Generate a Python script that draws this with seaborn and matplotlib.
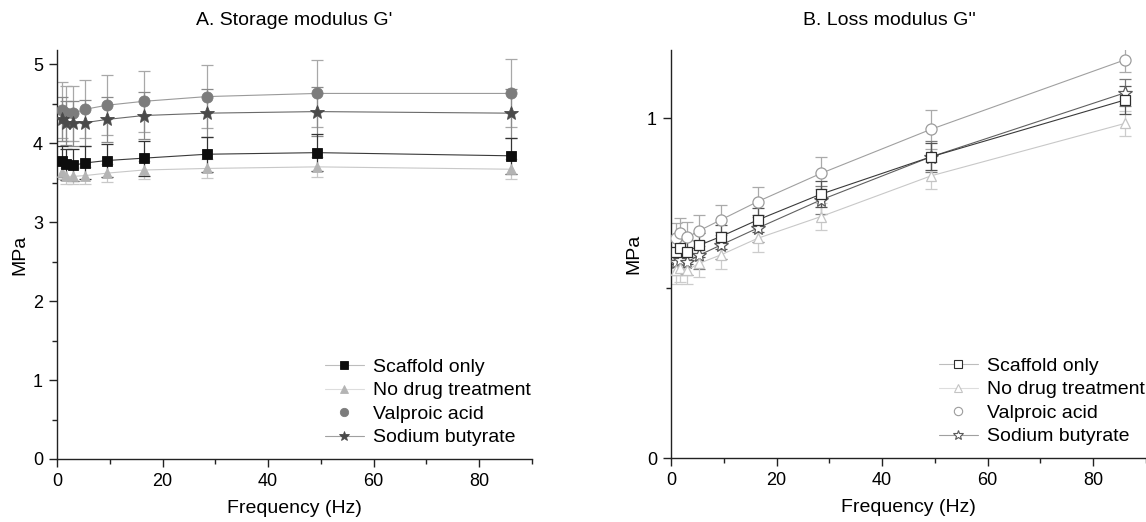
import numpy as np
import pandas as pd
import matplotlib
matplotlib.use("Agg")
import matplotlib.pyplot as plt
from matplotlib.lines import Line2D
from matplotlib.ticker import MultipleLocator
import seaborn as sns

# Oscillation frequencies (Hz)
freq = [1.0, 1.8, 3.1, 5.4, 9.4, 16.4, 28.4, 49.3, 86.0]

groups = ["Scaffold only", "No drug treatment", "Valproic acid", "Sodium butyrate"]

# Storage modulus G' (MPa), mean and error
g1_scaffold = [3.77, 3.73, 3.72, 3.75, 3.78, 3.81, 3.86, 3.88, 3.84]
g1_nodrug = [3.64, 3.58, 3.58, 3.59, 3.62, 3.66, 3.68, 3.70, 3.67]
g1_valproic = [4.42, 4.38, 4.38, 4.43, 4.48, 4.53, 4.59, 4.63, 4.63]
g1_butyrate = [4.31, 4.26, 4.25, 4.26, 4.30, 4.35, 4.38, 4.40, 4.38]
e1_scaffold = [0.20, 0.20, 0.20, 0.21, 0.21, 0.22, 0.22, 0.23, 0.23]
e1_nodrug = [0.10, 0.10, 0.10, 0.11, 0.11, 0.12, 0.12, 0.13, 0.13]
e1_valproic = [0.36, 0.35, 0.35, 0.37, 0.38, 0.39, 0.40, 0.42, 0.43]
e1_butyrate = [0.28, 0.28, 0.28, 0.29, 0.29, 0.30, 0.30, 0.31, 0.31]

# Loss modulus G'' (MPa), mean and error
g2_scaffold = [0.607, 0.617, 0.607, 0.626, 0.651, 0.700, 0.776, 0.886, 1.053]
g2_nodrug = [0.553, 0.558, 0.553, 0.573, 0.597, 0.646, 0.710, 0.830, 0.984]
g2_valproic = [0.646, 0.661, 0.649, 0.669, 0.700, 0.754, 0.837, 0.967, 1.171]
g2_butyrate = [0.577, 0.582, 0.577, 0.597, 0.626, 0.676, 0.759, 0.886, 1.074]
e2_scaffold = [0.035, 0.035, 0.035, 0.035, 0.035, 0.036, 0.038, 0.040, 0.040]
e2_nodrug = [0.040, 0.040, 0.040, 0.040, 0.040, 0.040, 0.040, 0.040, 0.037]
e2_valproic = [0.045, 0.045, 0.045, 0.045, 0.044, 0.044, 0.047, 0.057, 0.035]
e2_butyrate = [0.040, 0.040, 0.040, 0.040, 0.040, 0.040, 0.042, 0.045, 0.040]

storage = pd.DataFrame({
    "Frequency": freq * 4,
    "Group": np.repeat(groups, len(freq)),
    "Mean": g1_scaffold + g1_nodrug + g1_valproic + g1_butyrate,
    "Err": e1_scaffold + e1_nodrug + e1_valproic + e1_butyrate,
})
loss = pd.DataFrame({
    "Frequency": freq * 4,
    "Group": np.repeat(groups, len(freq)),
    "Mean": g2_scaffold + g2_nodrug + g2_valproic + g2_butyrate,
    "Err": e2_scaffold + e2_nodrug + e2_valproic + e2_butyrate,
})

sns.set_style("white")
plt.rcParams["font.family"] = ["Liberation Sans", "DejaVu Sans"]
plt.rcParams["text.color"] = "black"
plt.rcParams["axes.labelcolor"] = "black"
plt.rcParams["xtick.color"] = "black"
plt.rcParams["ytick.color"] = "black"

markers = {"Scaffold only": "s", "No drug treatment": "^",
           "Valproic acid": "o", "Sodium butyrate": "*"}
msize = {"Scaffold only": 7, "No drug treatment": 7.5,
         "Valproic acid": 8, "Sodium butyrate": 10}

# Panel A: filled markers
face_a = {"Scaffold only": "#0d0d0d", "No drug treatment": "#b4b4b4",
          "Valproic acid": "#7c7c7c", "Sodium butyrate": "#4a4a4a"}
line_a = {"Scaffold only": "#3a3a3a", "No drug treatment": "#c8c8c8",
          "Valproic acid": "#9a9a9a", "Sodium butyrate": "#6a6a6a"}
err_a = {"Scaffold only": "#333333", "No drug treatment": "#c8c8c8",
         "Valproic acid": "#a8a8a8", "Sodium butyrate": "#8a8a8a"}

# Panel B: open markers
edge_b = {"Scaffold only": "#2e2e2e", "No drug treatment": "#c4c4c4",
          "Valproic acid": "#9c9c9c", "Sodium butyrate": "#5a5a5a"}
line_b = {"Scaffold only": "#3a3a3a", "No drug treatment": "#c8c8c8",
          "Valproic acid": "#a0a0a0", "Sodium butyrate": "#606060"}
err_b = {"Scaffold only": "#555555", "No drug treatment": "#cccccc",
         "Valproic acid": "#aaaaaa", "Sodium butyrate": "#7a7a7a"}

# Lighter line segments for the legend keys
legend_line = {"Scaffold only": "#bdbdbd", "No drug treatment": "#dddddd",
               "Valproic acid": "none", "Sodium butyrate": "#a0a0a0"}

fig = plt.figure(figsize=(11.46, 5.22), dpi=100)
fig.patch.set_facecolor("white")
axA = fig.add_axes([0.0497, 0.1207, 0.4145, 0.7835])
axB = fig.add_axes([0.5855, 0.1226, 0.4145, 0.7816])

order = ["Valproic acid", "Sodium butyrate", "No drug treatment", "Scaffold only"]


def draw_panel(ax, df, face, edge, line, err, filled):
    for g in order:
        sub = df[df["Group"] == g]
        ax.errorbar(sub["Frequency"], sub["Mean"], yerr=sub["Err"], fmt="none",
                    ecolor=err[g], elinewidth=0.9, capsize=4, capthick=0.9, zorder=2)
        sns.lineplot(data=sub, x="Frequency", y="Mean", ax=ax, color=line[g],
                     linewidth=0.8, marker=markers[g], markersize=msize[g],
                     markerfacecolor=face[g] if filled else "white",
                     markeredgecolor=face[g] if filled else edge[g],
                     markeredgewidth=0.6 if filled else 0.9,
                     legend=False, zorder=3)
    handles = []
    for g in groups:
        handles.append(Line2D([], [], color=legend_line[g],
                              lw=0.8, marker=markers[g], markersize=msize[g] * 0.75,
                              markerfacecolor=face[g] if filled else "white",
                              markeredgecolor=face[g] if filled else edge[g],
                              markeredgewidth=0.6 if filled else 0.8))
    ax.legend(handles, groups, loc="lower right", frameon=False, fontsize=14,
              handlelength=2.0, handletextpad=0.5, labelspacing=0.3,
              borderaxespad=0.0, bbox_to_anchor=(1.015, 0.012))


draw_panel(axA, storage, face_a, None, line_a, err_a, True)
draw_panel(axB, loss, None, edge_b, line_b, err_b, False)

for ax in (axA, axB):
    ax.set_xlim(0, 90)
    ax.xaxis.set_major_locator(MultipleLocator(20))
    ax.xaxis.set_minor_locator(MultipleLocator(10))
    ax.yaxis.set_minor_locator(MultipleLocator(0.5))
    ax.yaxis.set_major_locator(MultipleLocator(1))
    for s in ("top", "right"):
        ax.spines[s].set_visible(False)
    for s in ("left", "bottom"):
        ax.spines[s].set_color("#222222")
        ax.spines[s].set_linewidth(1.0)
    ax.tick_params(which="major", direction="out", length=6, width=1.0,
                   color="#222222", labelsize=13, labelcolor="black", pad=4,
                   bottom=True, left=True)
    ax.tick_params(which="minor", direction="out", length=3.5, width=1.0,
                   color="#222222", bottom=True, left=True)
    ax.set_xlabel("Frequency (Hz)", fontsize=14, labelpad=7, color="black")
    ax.set_ylabel("MPa", fontsize=14, labelpad=3, color="black")

axA.set_ylim(0, 5.18)
axB.set_ylim(0, 1.2)
axA.set_title("A. Storage modulus G'", fontsize=14, pad=18, color="black")
axB.set_title("B. Loss modulus G''", fontsize=14, pad=18, x=0.46, color="black")

fig.savefig("out.png", dpi=100, facecolor="white")
